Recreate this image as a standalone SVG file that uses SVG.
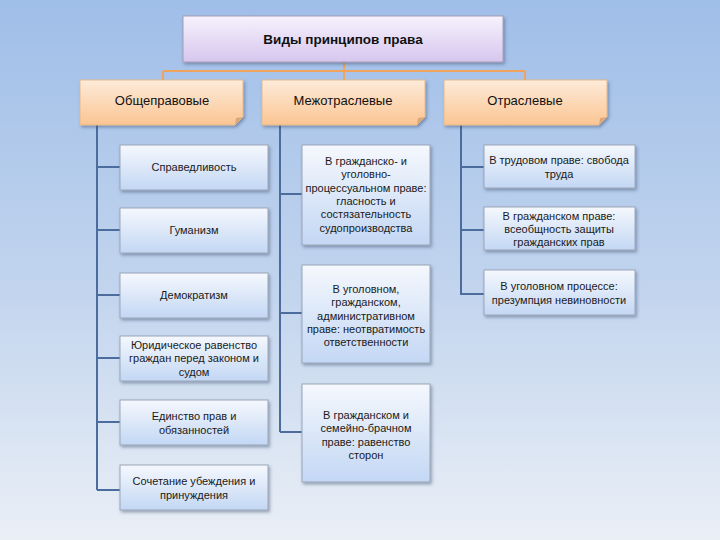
<svg xmlns="http://www.w3.org/2000/svg" width="720" height="540" viewBox="0 0 720 540">
<defs>
<linearGradient id="bg" x1="0" y1="0" x2="0" y2="1">
<stop offset="0" stop-color="#9fbee8"/>
<stop offset="0.55" stop-color="#c3d5ee"/>
<stop offset="1" stop-color="#eaeff6"/>
</linearGradient>
<linearGradient id="gTitle" x1="0" y1="0" x2="0" y2="1">
<stop offset="0" stop-color="#f6f2fc"/>
<stop offset="1" stop-color="#d6c6ee"/>
</linearGradient>
<linearGradient id="gCat" x1="0" y1="0" x2="0" y2="1">
<stop offset="0" stop-color="#fdebda"/>
<stop offset="1" stop-color="#fbc592"/>
</linearGradient>
<linearGradient id="gBox" x1="0" y1="0" x2="0" y2="1">
<stop offset="0" stop-color="#f5f8fd"/>
<stop offset="1" stop-color="#c3d7f4"/>
</linearGradient>
<filter id="sh" x="-10%" y="-10%" width="125%" height="135%">
<feDropShadow dx="1.5" dy="2" stdDeviation="1.5" flood-color="#34496a" flood-opacity="0.45"/>
</filter>
</defs>
<style>
.box{fill:url(#gBox);stroke:#9aa6b8;stroke-width:1;filter:url(#sh)}
.cat{fill:url(#gCat);stroke:#e3b98f;stroke-width:1;filter:url(#sh)}
.fold{fill:#d9a77a}
.t{font-family:"Liberation Sans",Arial,sans-serif;font-size:11px;fill:#1a1a1a;text-anchor:middle}
.ct{font-family:"Liberation Sans",Arial,sans-serif;font-size:13px;fill:#111;text-anchor:middle}
.tt{font-family:"Liberation Sans",Arial,sans-serif;font-size:13.5px;font-weight:bold;fill:#111;text-anchor:middle}
.ln{stroke:#4b6c9c;stroke-width:2;fill:none}
.or{stroke:#efa35c;stroke-width:2;fill:none}
</style>
<rect width="720" height="540" fill="url(#bg)"/>
<g id="connectors">
<path class="or" d="M344 62V80M163 71H525M163 71V80M525 71V80"/>
<path class="ln" d="M97 125V490M97 167H120M97 230H120M97 295H120M97 358H120M97 422H120M97 490H120"/>
<path class="ln" d="M280 125V432M280 194H302M280 313H302M280 432H302"/>
<path class="ln" d="M461 125V294H484M461 167H484M461 230H484"/>
</g>
<g id="title">
<rect x="183" y="16" width="320" height="46" fill="url(#gTitle)" stroke="#a89cb8" filter="url(#sh)"/>
<text class="tt" x="343" y="44">Виды принципов права</text>
</g>
<g id="cat1">
<path class="cat" d="M80 80H243V117L235 125H80Z"/>
<path class="fold" d="M243 117L235 125L236 118Z"/>
<text class="ct" x="162" y="105">Общеправовые</text>
</g>
<g id="cat2">
<path class="cat" d="M262 80H425V117L417 125H262Z"/>
<path class="fold" d="M425 117L417 125L418 118Z"/>
<text class="ct" x="343" y="105">Межотраслевые</text>
</g>
<g id="cat3">
<path class="cat" d="M444 80H607V117L599 125H444Z"/>
<path class="fold" d="M607 117L599 125L600 118Z"/>
<text class="ct" x="525" y="105">Отраслевые</text>
</g>
<g id="l1"><rect class="box" x="120" y="145" width="148" height="45"/><text class="t" x="194" y="171">Справедливость</text></g>
<g id="l2"><rect class="box" x="120" y="208" width="148" height="45"/><text class="t" x="194" y="234">Гуманизм</text></g>
<g id="l3"><rect class="box" x="120" y="273" width="148" height="45"/><text class="t" x="194" y="299">Демократизм</text></g>
<g id="l4"><rect class="box" x="120" y="336" width="148" height="45"/><text class="t" x="194" y="349">Юридическое равенство</text><text class="t" x="194" y="362">граждан перед законом и</text><text class="t" x="194" y="376">судом</text></g>
<g id="l5"><rect class="box" x="120" y="400" width="148" height="45"/><text class="t" x="194" y="420">Единство прав и</text><text class="t" x="194" y="434">обязанностей</text></g>
<g id="l6"><rect class="box" x="120" y="465" width="148" height="45"/><text class="t" x="194" y="485">Сочетание убеждения и</text><text class="t" x="194" y="499">принуждения</text></g>
<g id="m1"><rect class="box" x="302" y="145" width="128" height="100"/>
<text class="t" x="366" y="165">В гражданско- и</text><text class="t" x="366" y="178">уголовно-</text><text class="t" x="366" y="192">процессуальном праве:</text><text class="t" x="366" y="205">гласность и</text><text class="t" x="366" y="218">состязательность</text><text class="t" x="366" y="232">судопроизводства</text></g>
<g id="m2"><rect class="box" x="302" y="265" width="128" height="98"/>
<text class="t" x="366" y="293">В уголовном,</text><text class="t" x="366" y="306">гражданском,</text><text class="t" x="366" y="320">административном</text><text class="t" x="366" y="333">праве: неотвратимость</text><text class="t" x="366" y="346">ответственности</text></g>
<g id="m3"><rect class="box" x="302" y="384" width="128" height="98"/>
<text class="t" x="366" y="419">В гражданском и</text><text class="t" x="366" y="432">семейно-брачном</text><text class="t" x="366" y="446">праве: равенство</text><text class="t" x="366" y="459">сторон</text></g>
<g id="r1"><rect class="box" x="484" y="145" width="151" height="43"/><text class="t" x="559" y="164">В трудовом праве: свобода</text><text class="t" x="559" y="178">труда</text></g>
<g id="r2"><rect class="box" x="484" y="207" width="151" height="43"/><text class="t" x="559" y="220">В гражданском праве:</text><text class="t" x="559" y="233">всеобщность защиты</text><text class="t" x="559" y="246">гражданских прав</text></g>
<g id="r3"><rect class="box" x="484" y="270" width="151" height="45"/><text class="t" x="559" y="290">В уголовном процессе:</text><text class="t" x="559" y="304">презумпция невиновности</text></g>
</svg>
